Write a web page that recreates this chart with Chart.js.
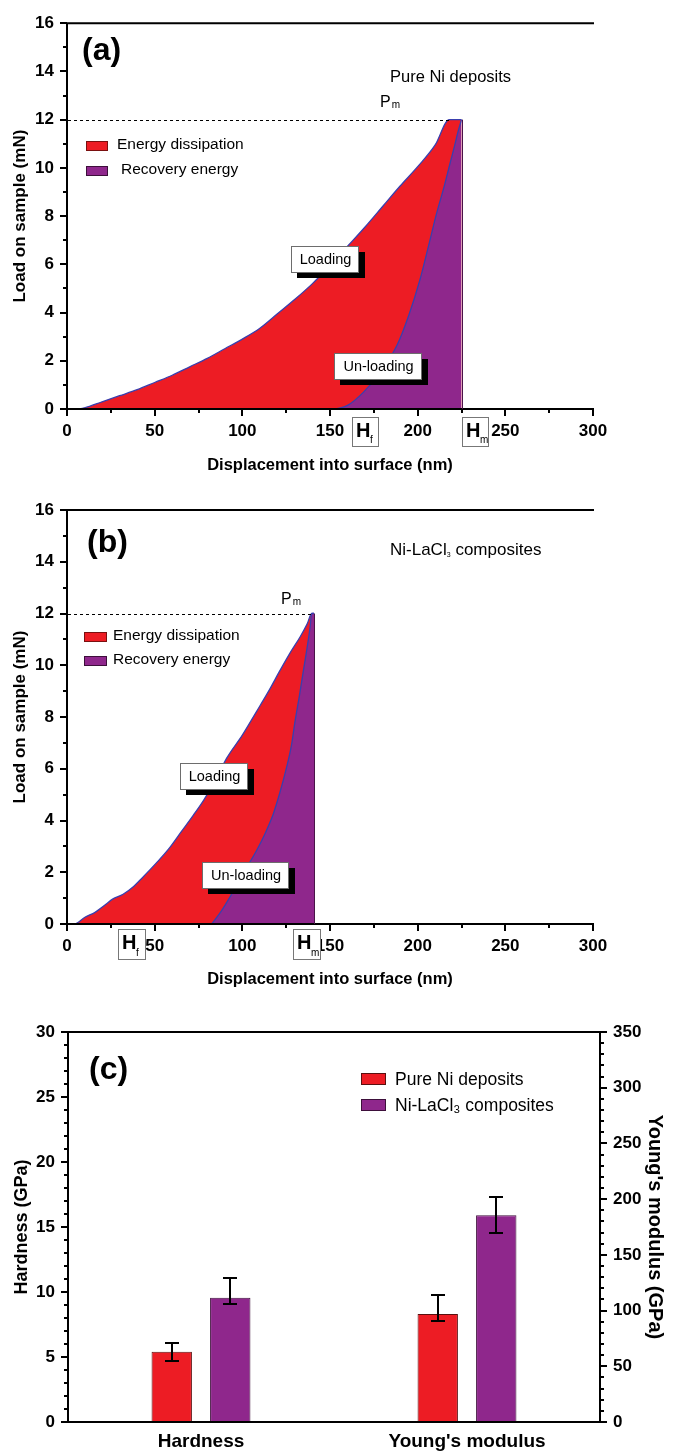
<!DOCTYPE html>
<html>
<head>
<meta charset="utf-8">
<title>Nanoindentation: Pure Ni vs Ni-LaCl3</title>
<script src="https://cdn.jsdelivr.net/npm/chart.js@4.4.1/dist/chart.umd.min.js"></script>
<style>
  html, body { margin: 0; padding: 0; background: #fff; }
  #wrap { position: relative; width: 677px; height: 1451px; overflow: hidden; }
  #wrap canvas { position: absolute; left: 0; }
</style>
</head>
<body>
<div id="wrap">
  <canvas id="chartA" width="677" height="480" style="top:0"></canvas>
  <canvas id="chartB" width="677" height="510" style="top:480px"></canvas>
  <canvas id="chartC" width="677" height="461" style="top:990px"></canvas>
</div>
<script>
// ---- data ----
// (a) pure Ni deposits: displacement (nm) vs load (mN)
const loadA_x = [0, 5, 10, 20, 30, 40, 50, 60, 70, 80, 90, 100, 110, 120, 130, 140, 150, 160, 170, 180, 190, 200, 210, 218, 225];
const loadA_y = [0, 0, 0.05, 0.3, 0.55, 0.8, 1.1, 1.4, 1.75, 2.1, 2.5, 2.9, 3.35, 3.95, 4.55, 5.2, 5.95, 6.75, 7.55, 8.4, 9.25, 10.05, 10.95, 12.0, 12.0];
const unloadA_x = [153, 160, 169, 178.5, 188, 195, 201.3, 206, 210.8, 215, 218.4, 221, 223.2, 225];
const unloadA_y = [0, 0.15, 0.69, 1.51, 2.61, 3.9, 5.36, 6.7, 8.11, 9.2, 10.17, 10.9, 11.55, 12.0];

// (b) Ni-LaCl3 composites
const loadB_x = [0, 4, 6, 10, 16, 22, 26, 32, 38, 43, 51, 58, 65, 72, 78, 85, 91, 100, 108, 115, 121.5, 127, 133, 137, 139.6, 140.9];
const loadB_y = [0, 0, 0.05, 0.25, 0.45, 0.75, 0.96, 1.15, 1.45, 1.79, 2.36, 2.9, 3.55, 4.2, 4.79, 5.6, 6.4, 7.3, 8.2, 9.0, 9.8, 10.45, 11.1, 11.6, 12.0, 12.0];
const unloadB_x = [82.5, 88, 93, 100, 108.2, 113, 117.7, 121.5, 125.3, 128, 130.1, 132.5, 134.8, 137, 138.6, 139.6, 140.9];
const unloadB_y = [0, 0.5, 1.05, 1.9, 2.85, 3.5, 4.26, 5.1, 6.07, 6.9, 7.85, 8.8, 9.78, 10.7, 11.45, 12.0, 12.0];

const dispTicks = [0, 50, 100, 150, 200, 250, 300];
const dispMinor = 25;
const loadTicks = [0, 2, 4, 6, 8, 10, 12, 14, 16];
const loadMinor = 1;

// (c) hardness and Young's modulus
const categories = ['Hardness', "Young's modulus"];
const seriesNames = ['Pure Ni deposits', 'Ni-LaCl₃ composites'];
const pureNiVals = [5.4, 97];
const pureNiErrLow = [0.7, 6];
const pureNiErrHigh = [0.65, 17];
const compositeVals = [9.55, 185.5];
const compositeErrLow = [0.5, 15.6];
const compositeErrHigh = [1.5, 16];
const hardTicks = [0, 5, 10, 15, 20, 25, 30];
const hardMinor = 1;
const modTicks = [0, 50, 100, 150, 200, 250, 300, 350];
const modMinor = 10;

// ---- styling ----
const FONT = '"Liberation Sans", Arial, Helvetica, sans-serif';
const RED = '#ed1c24';
const PURPLE = '#8f278c';
const EDGE = '#3a3fae';
Chart.defaults.font.family = FONT;
Chart.defaults.color = '#000';

function pts(xs, ys) { return xs.map((x, i) => ({ x: x, y: ys[i] })); }
function tickList(vals) { return scale => { scale.ticks = vals.map(v => ({ value: v })); }; }
function boldFont(size) { return { family: FONT, size: size, weight: 'bold' }; }

function drawTicks(ctx, scale, side, majors, step) {
  const n = Math.round((scale.max - scale.min) / step);
  ctx.beginPath();
  for (let i = 0; i <= n; i++) {
    const v = scale.min + i * step;
    const len = majors.some(m => Math.abs(m - v) < 1e-6) ? 7 : 4;
    const p = Math.round(scale.getPixelForValue(v));
    if (side === 'left') { ctx.moveTo(scale.right - len, p); ctx.lineTo(scale.right, p); }
    else if (side === 'right') { ctx.moveTo(scale.left, p); ctx.lineTo(scale.left + len, p); }
    else { ctx.moveTo(p, scale.top); ctx.lineTo(p, scale.top + len); }
  }
  ctx.stroke();
}

function text(ctx, s, x, y, font, align, base) {
  ctx.font = font;
  ctx.fillStyle = '#000';
  ctx.textAlign = align || 'left';
  ctx.textBaseline = base || 'middle';
  ctx.fillText(s, x, y);
}

function swatch(ctx, x, y, w, h, fill, edge) {
  ctx.fillStyle = fill;
  ctx.fillRect(x, y, w, h);
  ctx.strokeStyle = edge;
  ctx.lineWidth = 1;
  ctx.strokeRect(x + 0.5, y + 0.5, w - 1, h - 1);
}

function shadowBox(ctx, x, y, w, h, s) {
  ctx.fillStyle = '#000';
  ctx.fillRect(x + 6, y + 6, w + 1, h);
  ctx.fillStyle = '#fff';
  ctx.fillRect(x, y, w, h);
  ctx.strokeStyle = '#6d6d6d';
  ctx.lineWidth = 1;
  ctx.strokeRect(x + 0.5, y + 0.5, w, h);
  text(ctx, s, x + w / 2 + 1, y + h / 2 + 1, '14.5px ' + FONT, 'center');
}

function hBox(ctx, x, y, w, h, sub) {
  ctx.fillStyle = '#fff';
  ctx.fillRect(x, y, w, h);
  ctx.strokeStyle = '#777';
  ctx.lineWidth = 1;
  ctx.strokeRect(x + 0.5, y + 0.5, w, h);
  text(ctx, 'H', x + 4, y + 20, 'bold 20px ' + FONT, 'left', 'alphabetic');
  text(ctx, sub, x + 18, y + h - 3, '10px ' + FONT, 'left', 'alphabetic');
}

function subText(ctx, main, sub, x, base, size) {
  ctx.font = size + 'px ' + FONT;
  const w = ctx.measureText(main).width;
  text(ctx, main, x, base, size + 'px ' + FONT, 'left', 'alphabetic');
  text(ctx, sub, x + w + 1, base + 1, Math.round(size * 0.6) + 'px ' + FONT, 'left', 'alphabetic');
}

// axis lines, frame and minor/major ticks
function framePlugin(spec) {
  return {
    id: 'frame',
    afterDraw(chart) {
      const ctx = chart.ctx;
      const a = chart.chartArea;
      ctx.save();
      ctx.strokeStyle = '#000';
      ctx.lineWidth = 2;
      ctx.beginPath();
      ctx.moveTo(a.left, a.top); ctx.lineTo(a.left, a.bottom);
      ctx.moveTo(a.left - 1, a.bottom); ctx.lineTo(a.right + 1, a.bottom);
      ctx.moveTo(a.left - 1, a.top); ctx.lineTo(a.right + 1, a.top);
      if (spec.rightAxis) { ctx.moveTo(a.right, a.top); ctx.lineTo(a.right, a.bottom); }
      ctx.stroke();
      spec.ticks.forEach(t => drawTicks(ctx, chart.scales[t.id], t.side, t.majors, t.step));
      ctx.restore();
    }
  };
}

function curveChart(id, load, unload, layout, xTitlePad, deco) {
  const peakIdx = load.findIndex(p => p.y === Math.max(...load.map(q => q.y)));
  return new Chart(document.getElementById(id), {
    type: 'line',
    data: {
      datasets: [
        {
          label: 'Recovery energy', data: unload, fill: 'origin',
          backgroundColor: PURPLE, borderColor: EDGE, borderWidth: 1.3,
          pointRadius: 0, cubicInterpolationMode: 'monotone'
        },
        {
          label: 'Energy dissipation', data: load, fill: 'origin',
          backgroundColor: RED, borderColor: EDGE, borderWidth: 1.3,
          pointRadius: 0, cubicInterpolationMode: 'monotone'
        }
      ]
    },
    options: {
      responsive: false,
      animation: false,
      events: [],
      layout: { padding: { top: layout.top, right: 84, left: 0, bottom: 0 } },
      plugins: { legend: { display: false }, tooltip: { enabled: false } },
      scales: {
        x: {
          type: 'linear', min: 0, max: 300,
          afterBuildTicks: tickList(dispTicks),
          afterFit: s => { s.height = layout.xh; },
          grid: { display: false, drawTicks: false },
          border: { display: false },
          ticks: { font: boldFont(17), padding: 12, maxRotation: 0, autoSkip: false },
          title: { display: true, text: 'Displacement into surface (nm)', font: boldFont(16.5), padding: { top: 0, bottom: xTitlePad } }
        },
        y: {
          min: 0, max: 16,
          afterBuildTicks: tickList(loadTicks),
          afterFit: s => { s.width = 67; },
          grid: { display: false, drawTicks: false },
          border: { display: false },
          ticks: { font: boldFont(17), padding: 13 },
          title: { display: true, text: 'Load on sample (mN)', font: boldFont(17), padding: { top: 10, bottom: 0 } }
        }
      }
    },
    plugins: [
      framePlugin({ ticks: [
        { id: 'x', side: 'bottom', majors: dispTicks, step: dispMinor },
        { id: 'y', side: 'left', majors: loadTicks, step: loadMinor }
      ] }),
      {
        id: 'deco',
        afterDraw(chart) {
          const ctx = chart.ctx;
          const a = chart.chartArea;
          const xs = chart.scales.x, ys = chart.scales.y;
          ctx.save();
          // dashed line at maximum load
          const py = Math.round(ys.getPixelForValue(load[peakIdx].y)) + 0.5;
          const px = xs.getPixelForValue(load[peakIdx].x);
          ctx.strokeStyle = '#000';
          ctx.lineWidth = 1;
          ctx.setLineDash([3, 3]);
          ctx.beginPath(); ctx.moveTo(a.left + 1, py); ctx.lineTo(px, py); ctx.stroke();
          ctx.setLineDash([]);
          // right edge of the recovery area
          const last = unload[unload.length - 1];
          const ex = Math.round(xs.getPixelForValue(last.x)) + 0.5;
          ctx.strokeStyle = '#4a1448';
          ctx.beginPath(); ctx.moveTo(ex, ys.getPixelForValue(last.y)); ctx.lineTo(ex, ys.getPixelForValue(0)); ctx.stroke();
          deco(ctx);
          ctx.restore();
        }
      }
    ]
  });
}

curveChart('chartA', pts(loadA_x, loadA_y), pts(unloadA_x, unloadA_y), { top: 20, xh: 71 }, 5, ctx => {
  text(ctx, '(a)', 82, 51, 'bold 32px ' + FONT);
  text(ctx, 'Pure Ni deposits', 390, 77, '16.5px ' + FONT);
  subText(ctx, 'P', 'm', 380, 107, 16);
  swatch(ctx, 86, 141, 22, 10, RED, '#7a1010');
  text(ctx, 'Energy dissipation', 117, 145, '15.5px ' + FONT);
  swatch(ctx, 86, 166, 22, 10, PURPLE, '#3d0f3b');
  text(ctx, 'Recovery energy', 121, 170, '15.5px ' + FONT);
  shadowBox(ctx, 291, 246, 67, 26, 'Loading');
  shadowBox(ctx, 334, 353, 87, 26, 'Un-loading');
  hBox(ctx, 352, 417, 26, 29, 'f');
  hBox(ctx, 462, 417, 26, 29, 'm');
});

curveChart('chartB', pts(loadB_x, loadB_y), pts(unloadB_x, unloadB_y), { top: 30, xh: 66 }, 1, ctx => {
  text(ctx, '(b)', 87, 63, 'bold 32px ' + FONT);
  ctx.font = '17px ' + FONT;
  const w1 = ctx.measureText('Ni-LaCl').width;
  text(ctx, 'Ni-LaCl', 390, 70, '17px ' + FONT);
  text(ctx, '3', 390 + w1, 75, '7px ' + FONT);
  text(ctx, ' composites', 390 + w1 + 4, 70, '17px ' + FONT);
  subText(ctx, 'P', 'm', 281, 124, 16);
  swatch(ctx, 84, 152, 23, 10, RED, '#7a1010');
  text(ctx, 'Energy dissipation', 113, 156, '15.5px ' + FONT);
  swatch(ctx, 84, 176, 23, 10, PURPLE, '#3d0f3b');
  text(ctx, 'Recovery energy', 113, 180, '15.5px ' + FONT);
  shadowBox(ctx, 180, 283, 67, 26, 'Loading');
  shadowBox(ctx, 202, 382, 86, 26, 'Un-loading');
  hBox(ctx, 118, 449, 27, 30, 'f');
  hBox(ctx, 293, 449, 27, 30, 'm');
});

// ---- (c) bar chart, hardness on left axis, modulus on right axis ----
function barSet(name, color, edge, vals, lo, hi, idx, axis) {
  return {
    label: name,
    data: categories.map((c, i) => (i === idx ? vals[i] : null)),
    errLow: lo, errHigh: hi,
    yAxisID: axis, stack: name + axis, skipNull: true,
    backgroundColor: color, borderColor: edge, borderWidth: 1,
    categoryPercentage: 0.44, barPercentage: 0.69
  };
}

const errorBars = {
  id: 'errorBars',
  afterDatasetsDraw(chart) {
    const ctx = chart.ctx;
    ctx.save();
    ctx.strokeStyle = '#000';
    ctx.lineWidth = 2;
    chart.data.datasets.forEach((ds, di) => {
      const meta = chart.getDatasetMeta(di);
      const ys = chart.scales[ds.yAxisID];
      ds.data.forEach((v, i) => {
        if (v === null) return;
        const x = Math.round(meta.data[i].x);
        const top = Math.round(ys.getPixelForValue(v + ds.errHigh[i]));
        const bot = Math.round(ys.getPixelForValue(v - ds.errLow[i]));
        ctx.beginPath();
        ctx.moveTo(x, top); ctx.lineTo(x, bot);
        ctx.moveTo(x - 7, top); ctx.lineTo(x + 7, top);
        ctx.moveTo(x - 7, bot); ctx.lineTo(x + 7, bot);
        ctx.stroke();
      });
    });
    ctx.restore();
  }
};

new Chart(document.getElementById('chartC'), {
  type: 'bar',
  data: {
    labels: categories,
    datasets: [
      barSet(seriesNames[0], RED, '#5a1010', pureNiVals, pureNiErrLow, pureNiErrHigh, 0, 'yH'),
      barSet(seriesNames[1], PURPLE, '#3d0f3b', compositeVals, compositeErrLow, compositeErrHigh, 0, 'yH'),
      barSet(seriesNames[0], RED, '#5a1010', pureNiVals, pureNiErrLow, pureNiErrHigh, 1, 'yE'),
      barSet(seriesNames[1], PURPLE, '#3d0f3b', compositeVals, compositeErrLow, compositeErrHigh, 1, 'yE')
    ]
  },
  options: {
    responsive: false,
    animation: false,
    events: [],
    layout: { padding: { top: 42, right: 0, left: 0, bottom: 0 } },
    plugins: { legend: { display: false }, tooltip: { enabled: false } },
    scales: {
      x: {
        stacked: false,
        afterFit: s => { s.height = 29; },
        grid: { display: false, drawTicks: false },
        border: { display: false },
        ticks: { font: boldFont(19), padding: 8, maxRotation: 0 }
      },
      yH: {
        position: 'left', min: 0, max: 30,
        afterBuildTicks: tickList(hardTicks),
        afterFit: s => { s.width = 68; },
        grid: { display: false, drawTicks: false },
        border: { display: false },
        ticks: { font: boldFont(17), padding: 13 },
        title: { display: true, text: 'Hardness (GPa)', font: boldFont(18), padding: { top: 11, bottom: 0 } }
      },
      yE: {
        position: 'right', min: 0, max: 350,
        afterBuildTicks: tickList(modTicks),
        afterFit: s => { s.width = 77; },
        grid: { display: false, drawTicks: false },
        border: { display: false },
        ticks: { font: boldFont(17), padding: 13 },
        title: { display: true, text: "Young's modulus (GPa)", font: boldFont(20), padding: { top: 10, bottom: 0 } }
      }
    }
  },
  plugins: [
    errorBars,
    framePlugin({ rightAxis: true, ticks: [
      { id: 'yH', side: 'left', majors: hardTicks, step: hardMinor },
      { id: 'yE', side: 'right', majors: modTicks, step: modMinor }
    ] }),
    {
      id: 'decoC',
      afterDraw(chart) {
        const ctx = chart.ctx;
        ctx.save();
        text(ctx, '(c)', 89, 80, 'bold 32px ' + FONT);
        swatch(ctx, 361, 83, 25, 12, RED, '#5a1010');
        text(ctx, seriesNames[0], 395, 90, '17.5px ' + FONT);
        swatch(ctx, 361, 109, 25, 12, PURPLE, '#3d0f3b');
        text(ctx, seriesNames[1], 395, 116, '17.5px ' + FONT);
        ctx.restore();
      }
    }
  ]
});
</script>
</body>
</html>
